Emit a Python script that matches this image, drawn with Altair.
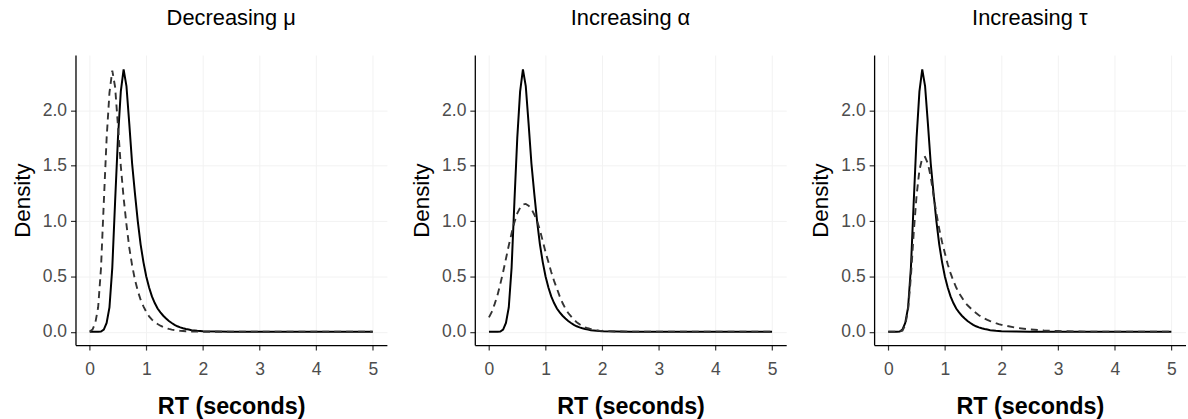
import altair as alt
import pandas as pd

# RT grid (seconds)
rt = [0.00, 0.05, 0.10, 0.15, 0.20, 0.25, 0.30, 0.35, 0.40, 0.45,
      0.50, 0.55, 0.60, 0.65, 0.70, 0.75, 0.80, 0.85, 0.90, 0.95,
      1.00, 1.05, 1.10, 1.15, 1.20, 1.25, 1.30, 1.35, 1.40, 1.45,
      1.50, 1.55, 1.60, 1.65, 1.70, 1.75, 1.80, 1.85, 1.90, 1.95,
      2.00, 2.25, 2.50, 2.75, 3.00, 3.50, 4.00, 4.50, 5.00]

# reference (solid) density, same in every panel
solid = [0.0, 0.0, 0.0, 0.0, 0.003, 0.02, 0.08, 0.22, 0.58, 1.18,
         1.75, 2.17, 2.37, 2.22, 1.88, 1.52, 1.25, 1.00, 0.79, 0.63,
         0.50, 0.40, 0.32, 0.26, 0.21, 0.175, 0.145, 0.12, 0.098, 0.08,
         0.063, 0.05, 0.04, 0.032, 0.025, 0.02, 0.015, 0.012, 0.009, 0.007,
         0.005, 0.002, 0.001, 0.0, 0.0, 0.0, 0.0, 0.0, 0.0]

# dashed densities
dashed_mu = [0.003, 0.02, 0.08, 0.22, 0.57, 1.17, 1.75, 2.16, 2.36, 2.21,
             1.86, 1.50, 1.21, 0.97, 0.76, 0.60, 0.47, 0.37, 0.29, 0.23,
             0.18, 0.14, 0.11, 0.088, 0.07, 0.055, 0.043, 0.034, 0.026, 0.02,
             0.015, 0.012, 0.009, 0.007, 0.005, 0.004, 0.003, 0.002, 0.002, 0.001,
             0.001, 0.0, 0.0, 0.0, 0.0, 0.0, 0.0, 0.0, 0.0]

dashed_alpha = [0.13, 0.18, 0.25, 0.33, 0.43, 0.54, 0.66, 0.78, 0.89, 0.99,
                1.07, 1.12, 1.15, 1.155, 1.14, 1.11, 1.06, 1.00, 0.92, 0.82,
                0.72, 0.63, 0.54, 0.46, 0.39, 0.32, 0.26, 0.21, 0.17, 0.14,
                0.11, 0.087, 0.068, 0.053, 0.041, 0.032, 0.025, 0.019, 0.015, 0.011,
                0.009, 0.003, 0.001, 0.0, 0.0, 0.0, 0.0, 0.0, 0.0]

dashed_tau = [0.0, 0.0, 0.0, 0.0, 0.002, 0.01, 0.06, 0.20, 0.50, 0.90,
              1.23, 1.46, 1.57, 1.58, 1.52, 1.40, 1.23, 1.07, 0.93, 0.81,
              0.71, 0.61, 0.53, 0.46, 0.40, 0.35, 0.31, 0.27, 0.24, 0.215,
              0.19, 0.17, 0.15, 0.135, 0.12, 0.108, 0.097, 0.087, 0.078, 0.07,
              0.063, 0.037, 0.021, 0.012, 0.007, 0.002, 0.0007, 0.0002, 0.0]

titles = ["Decreasing\u00a0μ", "Increasing\u00a0α", "Increasing\u00a0τ"]
x_ticks = [0, 1, 2, 3, 4, 5]
y_ticks = [0.0, 0.5, 1.0, 1.5, 2.0]

FONT = "Liberation Sans"


def panel(title, dashed):
    df = pd.DataFrame({"rt": rt, "solid": solid, "dashed": dashed})
    base = alt.Chart(df)
    xenc = alt.X(
        "rt:Q",
        scale=alt.Scale(domain=[-0.25, 5.25], nice=False, zero=False),
        axis=alt.Axis(values=x_ticks, title="RT (seconds)", format="d",
                      titleFontWeight="bold", titleFontSize=23.5,
                      titlePadding=16, labelPadding=11),
    )
    yscale = alt.Scale(domain=[-0.12, 2.5], nice=False, zero=False)
    yaxis = alt.Axis(values=y_ticks, title="Density", format=".1f",
                     titleFontWeight="normal", titlePadding=8)
    s = base.mark_line(color="black", strokeWidth=2.0).encode(
        x=xenc, y=alt.Y("solid:Q", scale=yscale, axis=yaxis)
    )
    d = base.mark_line(color="#333333", strokeWidth=1.9, strokeDash=[7, 5]).encode(
        x=xenc, y=alt.Y("dashed:Q", scale=yscale, axis=yaxis)
    )
    return alt.layer(s, d).properties(
        width=313.5, height=292,
        title=alt.TitleParams(title, anchor="middle", offset=25),
    )


chart = alt.hconcat(
    panel(titles[0], dashed_mu),
    panel(titles[1], dashed_alpha),
    panel(titles[2], dashed_tau),
    spacing=88,
    bounds="flush",
).properties(
    padding={"left": 11, "top": 6, "right": 2, "bottom": 2}
).configure_view(stroke=None).configure_axis(
    labelFont=FONT, labelFontSize=17.6, labelColor="#4d4d4d", labelPadding=4,
    titleFont=FONT, titleFontSize=22.5, titleColor="black",
    domainColor="black", domainWidth=1.3,
    tickColor="#333333", tickSize=5, tickWidth=1.2,
    gridColor="#f2f2f2", gridWidth=1,
).configure_title(
    font=FONT, fontSize=22, fontWeight="normal", color="black"
)

chart.save("out.html", embed_options={"renderer": "svg", "actions": False})
